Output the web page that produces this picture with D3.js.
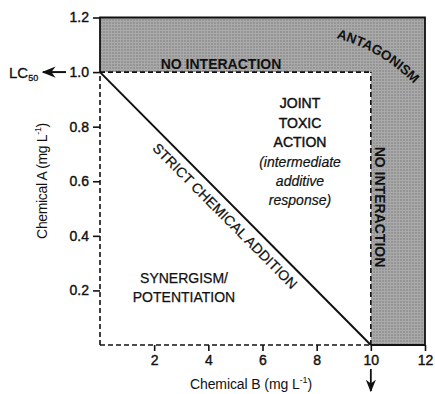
<!DOCTYPE html>
<html>
<head>
<meta charset="utf-8">
<script src="https://cdn.jsdelivr.net/npm/d3@7"></script>
<style>
  html, body { margin: 0; padding: 0; background: #fff; }
  svg { display: block; font-family: "Liberation Sans", Arial, sans-serif; }
</style>
</head>
<body>
<svg id="chart" width="435" height="394"></svg>
<script>
// ---- data ----
const xDomain = [0, 12];
const yDomain = [0, 1.2];
const xTicks = [2, 4, 6, 8, 10, 12];
const yTicks = [0.2, 0.4, 0.6, 0.8, 1.0, 1.2];
const lc50A = 1.0;           // LC50 of chemical A (mg/L)
const lc50B = 10;            // LC50 of chemical B (mg/L)
const additionLine = [[0, 1.0], [10, 0]];   // strict chemical addition isobole
const xTitle = "Chemical B (mg L";
const yTitle = "Chemical A (mg L";
const jointLines = ["JOINT", "TOXIC", "ACTION"];
const jointItalic = ["(intermediate", "additive", "response)"];
const synergyLines = ["SYNERGISM/", "POTENTIATION"];
const topLabel = "NO INTERACTION";
const rightLabel = "NO INTERACTION";
const antagonismLabel = "ANTAGONISM";
const diagLabel = "STRICT CHEMICAL ADDITION";

// ---- setup ----
const svg = d3.select("#chart");
const x = d3.scaleLinear().domain(xDomain).range([100, 425]);
const y = d3.scaleLinear().domain(yDomain).range([345, 17.5]);
const ink = "#111";

const defs = svg.append("defs");
const pat = defs.append("pattern").attr("id", "grid")
  .attr("patternUnits", "userSpaceOnUse").attr("width", 3).attr("height", 3);
pat.append("rect").attr("width", 3).attr("height", 3).attr("fill", "#959595");
pat.append("rect").attr("width", 3).attr("height", 1).attr("fill", "#ababab");
pat.append("rect").attr("width", 1).attr("height", 3).attr("fill", "#a8a8a8");

defs.append("marker").attr("id", "arrow")
  .attr("viewBox", "0 0 10 10").attr("refX", 9).attr("refY", 5)
  .attr("markerWidth", 7).attr("markerHeight", 7).attr("orient", "auto")
  .append("path").attr("d", "M0,1 L10,5 L0,9 L3,5 Z").attr("fill", ink);

// ---- shaded L region ----
const shade = [[0, lc50A], [0, yDomain[1]], [xDomain[1], yDomain[1]], [xDomain[1], 0], [lc50B, 0], [lc50B, lc50A]];
svg.append("path")
  .attr("d", d3.line().x(d => x(d[0])).y(d => y(d[1]))(shade) + "Z")
  .attr("fill", "url(#grid)");

// ---- dashed borders ----
const dashed = [
  [[0, 0], [0, lc50A]],
  [[0, 0], [lc50B, 0]],
  [[0, lc50A], [lc50B, lc50A]],
  [[lc50B, 0], [lc50B, lc50A]]
];
dashed.forEach(seg => {
  svg.append("path")
    .attr("d", d3.line().x(d => x(d[0])).y(d => y(d[1]))(seg))
    .attr("stroke", ink).attr("stroke-width", 1.6)
    .attr("stroke-dasharray", "5,3").attr("fill", "none");
});

// ---- solid borders ----
const solid = [[0, lc50A], [0, yDomain[1]], [xDomain[1], yDomain[1]], [xDomain[1], 0], [lc50B, 0]];
svg.append("path")
  .attr("d", d3.line().x(d => x(d[0])).y(d => y(d[1]))(solid))
  .attr("stroke", ink).attr("stroke-width", 1.8).attr("fill", "none");

// ---- addition line ----
svg.append("path")
  .attr("d", d3.line().x(d => x(d[0])).y(d => y(d[1]))(additionLine))
  .attr("stroke", ink).attr("stroke-width", 2).attr("fill", "none");

// ---- axes ----
const yAxis = svg.append("g").attr("transform", `translate(${x(0)},0)`)
  .call(d3.axisLeft(y).tickValues(yTicks).tickFormat(d3.format(".1f")).tickSize(7).tickPadding(4));
const xAxis = svg.append("g").attr("transform", `translate(0,${y(0)})`)
  .call(d3.axisBottom(x).tickValues(xTicks).tickFormat(d3.format("d")).tickSize(6).tickPadding(4));
[xAxis, yAxis].forEach(g => {
  g.select(".domain").remove();
  g.selectAll(".tick line").attr("stroke", ink).attr("stroke-width", 1.6);
  g.selectAll(".tick text").attr("fill", ink).attr("font-size", 14)
    .attr("font-family", "Liberation Sans, Arial, sans-serif")
    .attr("stroke", ink).attr("stroke-width", 0.4);
});

// ---- axis titles ----
const xt = svg.append("text").attr("x", 251).attr("y", 389).attr("text-anchor", "middle")
  .attr("font-size", 14).attr("letter-spacing", -0.1).attr("fill", ink);
xt.append("tspan").text(xTitle);
xt.append("tspan").attr("font-size", 9).attr("dy", -6).text("-1");
xt.append("tspan").attr("dy", 6).text(")");

const yt = svg.append("text").attr("transform", "translate(47,181) rotate(-90)").attr("text-anchor", "middle")
  .attr("font-size", 14).attr("letter-spacing", -0.35).attr("fill", ink);
yt.append("tspan").text(yTitle);
yt.append("tspan").attr("font-size", 9).attr("dy", -6).text("-1");
yt.append("tspan").attr("dy", 6).text(")");

// ---- LC50 annotation ----
const lc = svg.append("text").attr("x", 9).attr("y", 78).attr("font-size", 15).attr("fill", ink)
  .attr("stroke", ink).attr("stroke-width", 0.3);
lc.append("tspan").text("LC");
lc.append("tspan").attr("font-size", 9).attr("dy", 3).text("50");
svg.append("line").attr("x1", 66).attr("y1", y(lc50A)).attr("x2", 43).attr("y2", y(lc50A))
  .attr("stroke", ink).attr("stroke-width", 2).attr("marker-end", "url(#arrow)");

// down arrow under LC50 of B
svg.append("line").attr("x1", x(lc50B)).attr("y1", 369).attr("x2", x(lc50B)).attr("y2", 391)
  .attr("stroke", ink).attr("stroke-width", 1.8).attr("marker-end", "url(#arrow)");

// ---- region labels ----
svg.append("text").attr("x", 221).attr("y", 68.5).attr("text-anchor", "middle")
  .attr("font-size", 14).attr("font-weight", "bold").attr("fill", ink).text(topLabel);

svg.append("text").attr("transform", "translate(375,207) rotate(90)").attr("text-anchor", "middle")
  .attr("font-size", 14).attr("font-weight", "bold").attr("fill", ink).text(rightLabel);

defs.append("path").attr("id", "antPath").attr("d", "M332,37 Q381,49 417,87");
svg.append("text").attr("font-size", 13.5).attr("font-weight", "bold").attr("fill", ink)
  .append("textPath").attr("href", "#antPath").attr("startOffset", "50%").attr("text-anchor", "middle")
  .text(antagonismLabel);

const jBase = [108, 127.5, 147];
jointLines.forEach((t, i) => {
  svg.append("text").attr("x", 300).attr("y", jBase[i]).attr("text-anchor", "middle")
    .attr("font-size", 14).attr("fill", ink).attr("stroke", ink).attr("stroke-width", 0.45).text(t);
});
const iBase = [166.5, 186, 204.5];
jointItalic.forEach((t, i) => {
  svg.append("text").attr("x", 300).attr("y", iBase[i]).attr("text-anchor", "middle")
    .attr("font-size", 14).attr("font-style", "italic").attr("fill", ink)
    .attr("stroke", ink).attr("stroke-width", 0.2).text(t);
});

const sBase = [283, 302];
synergyLines.forEach((t, i) => {
  svg.append("text").attr("x", 184).attr("y", sBase[i]).attr("text-anchor", "middle")
    .attr("font-size", 14).attr("fill", ink).attr("stroke", ink).attr("stroke-width", 0.25).text(t);
});

// diagonal label along the addition line
const p0 = [x(additionLine[0][0]), y(additionLine[0][1])];
const p1 = [x(additionLine[1][0]), y(additionLine[1][1])];
const ang = Math.atan2(p1[1] - p0[1], p1[0] - p0[0]) * 180 / Math.PI;
svg.append("text")
  .attr("transform", `translate(${(p0[0] + p1[0]) / 2},${(p0[1] + p1[1]) / 2}) rotate(${ang})`)
  .attr("text-anchor", "middle").attr("x", -2).attr("dy", 17.5)
  .attr("font-size", 14).attr("letter-spacing", 0.1).attr("fill", ink).attr("stroke", ink).attr("stroke-width", 0.25)
  .text(diagLabel);
</script>
</body>
</html>
